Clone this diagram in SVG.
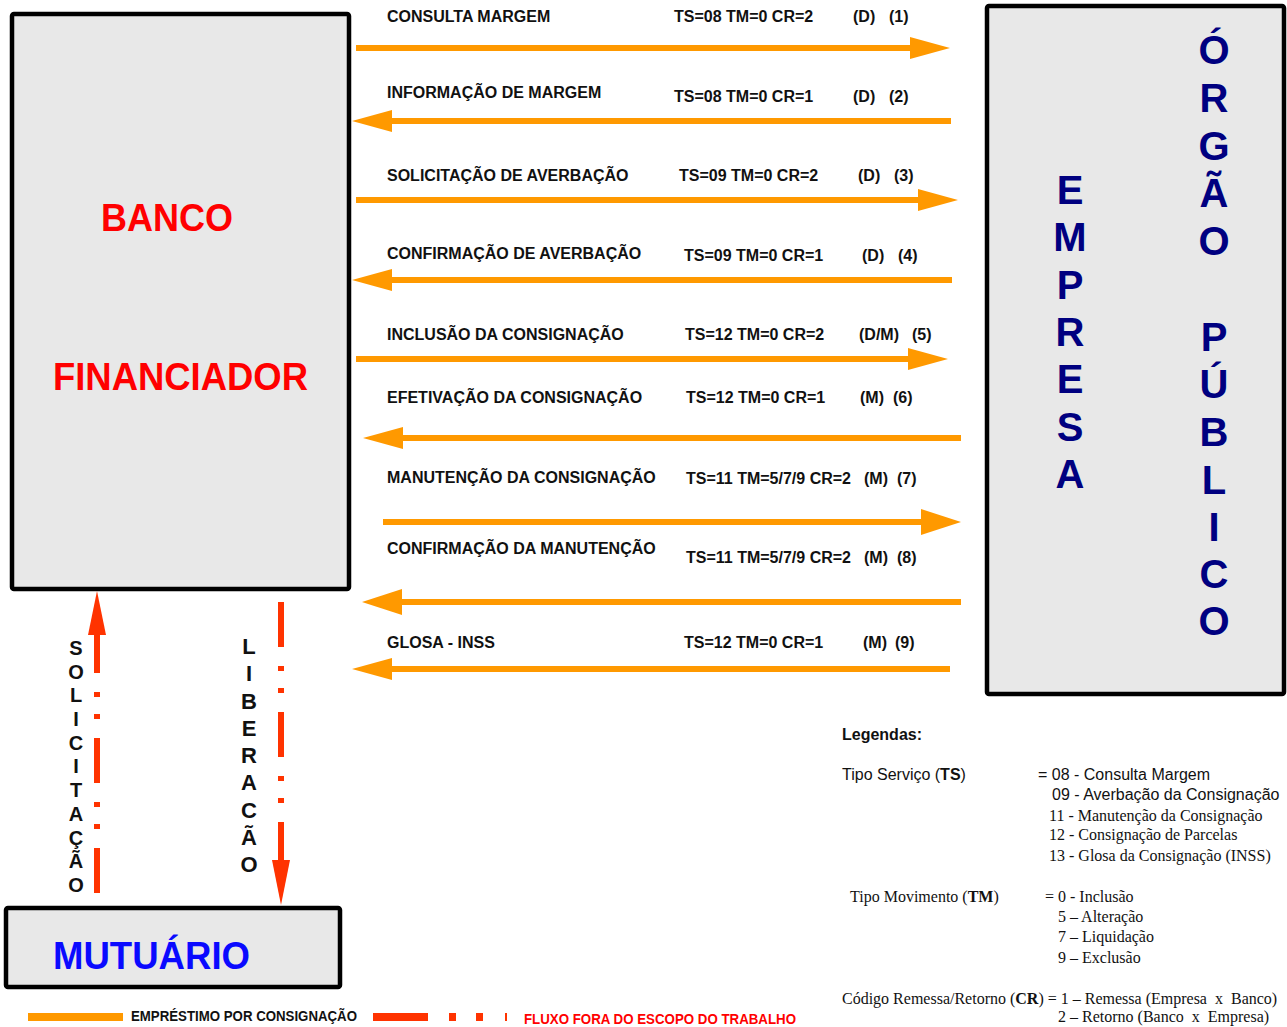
<svg xmlns="http://www.w3.org/2000/svg" width="1287" height="1027" viewBox="0 0 1287 1027">
<style>
.box{fill:#e8e8e8;stroke:#000;stroke-width:4.5}
.lbl{font-family:"Liberation Sans",Arial,sans-serif;font-weight:bold;font-size:16px;fill:#111}
.big{font-family:"Liberation Sans",Arial,sans-serif;font-weight:bold;font-size:38px}
.vt{font-family:"Liberation Sans",Arial,sans-serif;font-weight:bold;font-size:40px;fill:#000080;text-anchor:middle}
.vs{font-family:"Liberation Sans",Arial,sans-serif;font-weight:bold;font-size:20px;fill:#111;text-anchor:middle}
.vl{font-family:"Liberation Sans",Arial,sans-serif;font-weight:bold;font-size:22px;fill:#111;text-anchor:middle}
.ar{stroke:#ff9900;stroke-width:6;fill:none}
.ah{fill:#ff9900}
.rd{stroke:#ff3300;stroke-width:6;fill:none;stroke-dasharray:45 19 5 17 5 19}
.rh{fill:#ff3300}
.ls{font-family:"Liberation Sans",Arial,sans-serif;font-size:16px;fill:#111}
.lt{font-family:"Liberation Serif","Times New Roman",serif;font-size:16px;fill:#111}
.lb{font-family:"Liberation Sans",Arial,sans-serif;font-weight:bold;font-size:14px}
</style>

<g id="banco">
<rect class="box" x="12" y="14" width="337" height="575" rx="2"/>
<text class="big" x="101" y="231" fill="#ff0000" textLength="132" lengthAdjust="spacingAndGlyphs">BANCO</text>
<text class="big" x="53" y="390" fill="#ff0000" textLength="255" lengthAdjust="spacingAndGlyphs">FINANCIADOR</text>
</g>

<g id="empresa">
<rect class="box" x="987" y="6" width="297" height="688" rx="2"/>
<text class="vt" x="1070" y="204">E</text>
<text class="vt" x="1070" y="251">M</text>
<text class="vt" x="1070" y="299">P</text>
<text class="vt" x="1070" y="346">R</text>
<text class="vt" x="1070" y="393">E</text>
<text class="vt" x="1070" y="441">S</text>
<text class="vt" x="1070" y="488">A</text>
<text class="vt" x="1214" y="64">Ó</text>
<text class="vt" x="1214" y="112">R</text>
<text class="vt" x="1214" y="160">G</text>
<text class="vt" x="1214" y="207">Ã</text>
<text class="vt" x="1214" y="255">O</text>
<text class="vt" x="1214" y="351">P</text>
<text class="vt" x="1214" y="398">Ú</text>
<text class="vt" x="1214" y="446">B</text>
<text class="vt" x="1214" y="494">L</text>
<text class="vt" x="1214" y="541">I</text>
<text class="vt" x="1214" y="588">C</text>
<text class="vt" x="1214" y="635">O</text>
</g>

<g id="mutuario">
<rect class="box" x="6" y="908" width="334" height="79" rx="2"/>
<text class="big" x="53" y="969" fill="#0a0aff" textLength="197" lengthAdjust="spacingAndGlyphs">MUTUÁRIO</text>
</g>

<g id="connectors">
<line class="ar" x1="356" y1="48" x2="912" y2="48"/><polygon class="ah" points="950,48 910,37 910,59"/>
<line class="ar" x1="951" y1="121" x2="390" y2="121"/><polygon class="ah" points="352,121 392,110 392,132"/>
<line class="ar" x1="356" y1="200" x2="920" y2="200"/><polygon class="ah" points="958,200 918,189 918,211"/>
<line class="ar" x1="952" y1="280" x2="390" y2="280"/><polygon class="ah" points="352,280 392,269 392,291"/>
<line class="ar" x1="356" y1="359" x2="910" y2="359"/><polygon class="ah" points="948,359 908,348 908,370"/>
<line class="ar" x1="961" y1="438" x2="401" y2="438"/><polygon class="ah" points="363,438 403,427 403,449"/>
<line class="ar" x1="383" y1="522" x2="923" y2="522"/><polygon class="ah" points="961,522 921,509 921,535"/>
<line class="ar" x1="961" y1="602" x2="400" y2="602"/><polygon class="ah" points="362,602 402,589 402,615"/>
<line class="ar" x1="950" y1="669" x2="390" y2="669"/><polygon class="ah" points="352,669 392,658 392,680"/>
<path class="rd" d="M97 893 L97 634"/><polygon class="rh" points="97,591 88,635 106,635"/>
<path class="rd" d="M281 602 L281 861"/><polygon class="rh" points="281,905 272,860 290,860"/>
</g>

<g id="labels">
<text class="lbl" x="387" y="22">CONSULTA MARGEM</text>
<text class="lbl" x="674" y="22">TS=08 TM=0 CR=2</text>
<text class="lbl" x="853" y="22">(D)</text>
<text class="lbl" x="889" y="22">(1)</text>

<text class="lbl" x="387" y="98">INFORMAÇÃO DE MARGEM</text>
<text class="lbl" x="674" y="102">TS=08 TM=0 CR=1</text>
<text class="lbl" x="853" y="102">(D)</text>
<text class="lbl" x="889" y="102">(2)</text>

<text class="lbl" x="387" y="181">SOLICITAÇÃO DE AVERBAÇÃO</text>
<text class="lbl" x="679" y="181">TS=09 TM=0 CR=2</text>
<text class="lbl" x="858" y="181">(D)</text>
<text class="lbl" x="894" y="181">(3)</text>

<text class="lbl" x="387" y="259">CONFIRMAÇÃO DE AVERBAÇÃO</text>
<text class="lbl" x="684" y="261">TS=09 TM=0 CR=1</text>
<text class="lbl" x="862" y="261">(D)</text>
<text class="lbl" x="898" y="261">(4)</text>

<text class="lbl" x="387" y="340">INCLUSÃO DA CONSIGNAÇÃO</text>
<text class="lbl" x="685" y="340">TS=12 TM=0 CR=2</text>
<text class="lbl" x="859" y="340">(D/M)</text>
<text class="lbl" x="912" y="340">(5)</text>

<text class="lbl" x="387" y="403">EFETIVAÇÃO DA CONSIGNAÇÃO</text>
<text class="lbl" x="686" y="403">TS=12 TM=0 CR=1</text>
<text class="lbl" x="860" y="403">(M)</text>
<text class="lbl" x="893" y="403">(6)</text>

<text class="lbl" x="387" y="483">MANUTENÇÃO DA CONSIGNAÇÃO</text>
<text class="lbl" x="686" y="484">TS=11 TM=5/7/9 CR=2</text>
<text class="lbl" x="864" y="484">(M)</text>
<text class="lbl" x="897" y="484">(7)</text>

<text class="lbl" x="387" y="554">CONFIRMAÇÃO DA MANUTENÇÃO</text>
<text class="lbl" x="686" y="563">TS=11 TM=5/7/9 CR=2</text>
<text class="lbl" x="864" y="563">(M)</text>
<text class="lbl" x="897" y="563">(8)</text>

<text class="lbl" x="387" y="648">GLOSA - INSS</text>
<text class="lbl" x="684" y="648">TS=12 TM=0 CR=1</text>
<text class="lbl" x="863" y="648">(M)</text>
<text class="lbl" x="895" y="648">(9)</text>
</g>

<g id="solicitacao">
<text class="vs" x="76" y="655">S</text>
<text class="vs" x="76" y="679">O</text>
<text class="vs" x="76" y="702">L</text>
<text class="vs" x="76" y="726">I</text>
<text class="vs" x="76" y="750">C</text>
<text class="vs" x="76" y="773">I</text>
<text class="vs" x="76" y="797">T</text>
<text class="vs" x="76" y="821">A</text>
<text class="vs" x="76" y="845">Ç</text>
<text class="vs" x="76" y="868">Ã</text>
<text class="vs" x="76" y="892">O</text>
</g>

<g id="liberacao">
<text class="vl" x="249" y="654">L</text>
<text class="vl" x="249" y="681">I</text>
<text class="vl" x="249" y="709">B</text>
<text class="vl" x="249" y="736">E</text>
<text class="vl" x="249" y="763">R</text>
<text class="vl" x="249" y="790">A</text>
<text class="vl" x="249" y="818">C</text>
<text class="vl" x="249" y="845">Ã</text>
<text class="vl" x="249" y="872">O</text>
</g>

<g id="legenda">
<text class="ls" x="842" y="740" font-weight="bold">Legendas:</text>
<text class="ls" x="842" y="780">Tipo Serviço (<tspan font-weight="bold">TS</tspan>)</text>
<text class="ls" x="1038" y="780">= 08 - Consulta Margem</text>
<text class="ls" x="1052" y="800">09 - Averbação da Consignação</text>
<text class="lt" x="1049" y="821">11 - Manutenção da Consignação</text>
<text class="lt" x="1049" y="840">12 - Consignação de Parcelas</text>
<text class="lt" x="1049" y="861">13 - Glosa da Consignação (INSS)</text>
<text class="lt" x="850" y="902">Tipo Movimento (<tspan font-weight="bold">TM</tspan>)</text>
<text class="lt" x="1045" y="902">= 0 - Inclusão</text>
<text class="lt" x="1058" y="922">5 – Alteração</text>
<text class="lt" x="1058" y="942">7 – Liquidação</text>
<text class="lt" x="1058" y="963">9 – Exclusão</text>
<text class="lt" x="842" y="1004" style="white-space:pre">Código Remessa/Retorno (<tspan font-weight="bold">CR</tspan>) = 1 – Remessa (Empresa  x  Banco)</text>
<text class="lt" x="1058" y="1022" style="white-space:pre">2 – Retorno (Banco  x  Empresa)</text>
</g>

<g id="rodape">
<rect x="28" y="1013" width="95" height="8" fill="#ff9900"/>
<text class="lb" x="131" y="1021" fill="#111" textLength="226" lengthAdjust="spacingAndGlyphs">EMPRÉSTIMO POR CONSIGNAÇÃO</text>
<rect x="373" y="1013" width="55" height="8" fill="#ff3300"/>
<rect x="449" y="1013" width="7" height="8" fill="#ff3300"/>
<rect x="476" y="1013" width="7" height="8" fill="#ff3300"/>
<rect x="505" y="1013" width="2" height="8" fill="#ff3300"/>
<text class="lb" x="524" y="1024" fill="#ff0000" textLength="272" lengthAdjust="spacingAndGlyphs">FLUXO FORA DO ESCOPO DO TRABALHO</text>
</g>
</svg>
